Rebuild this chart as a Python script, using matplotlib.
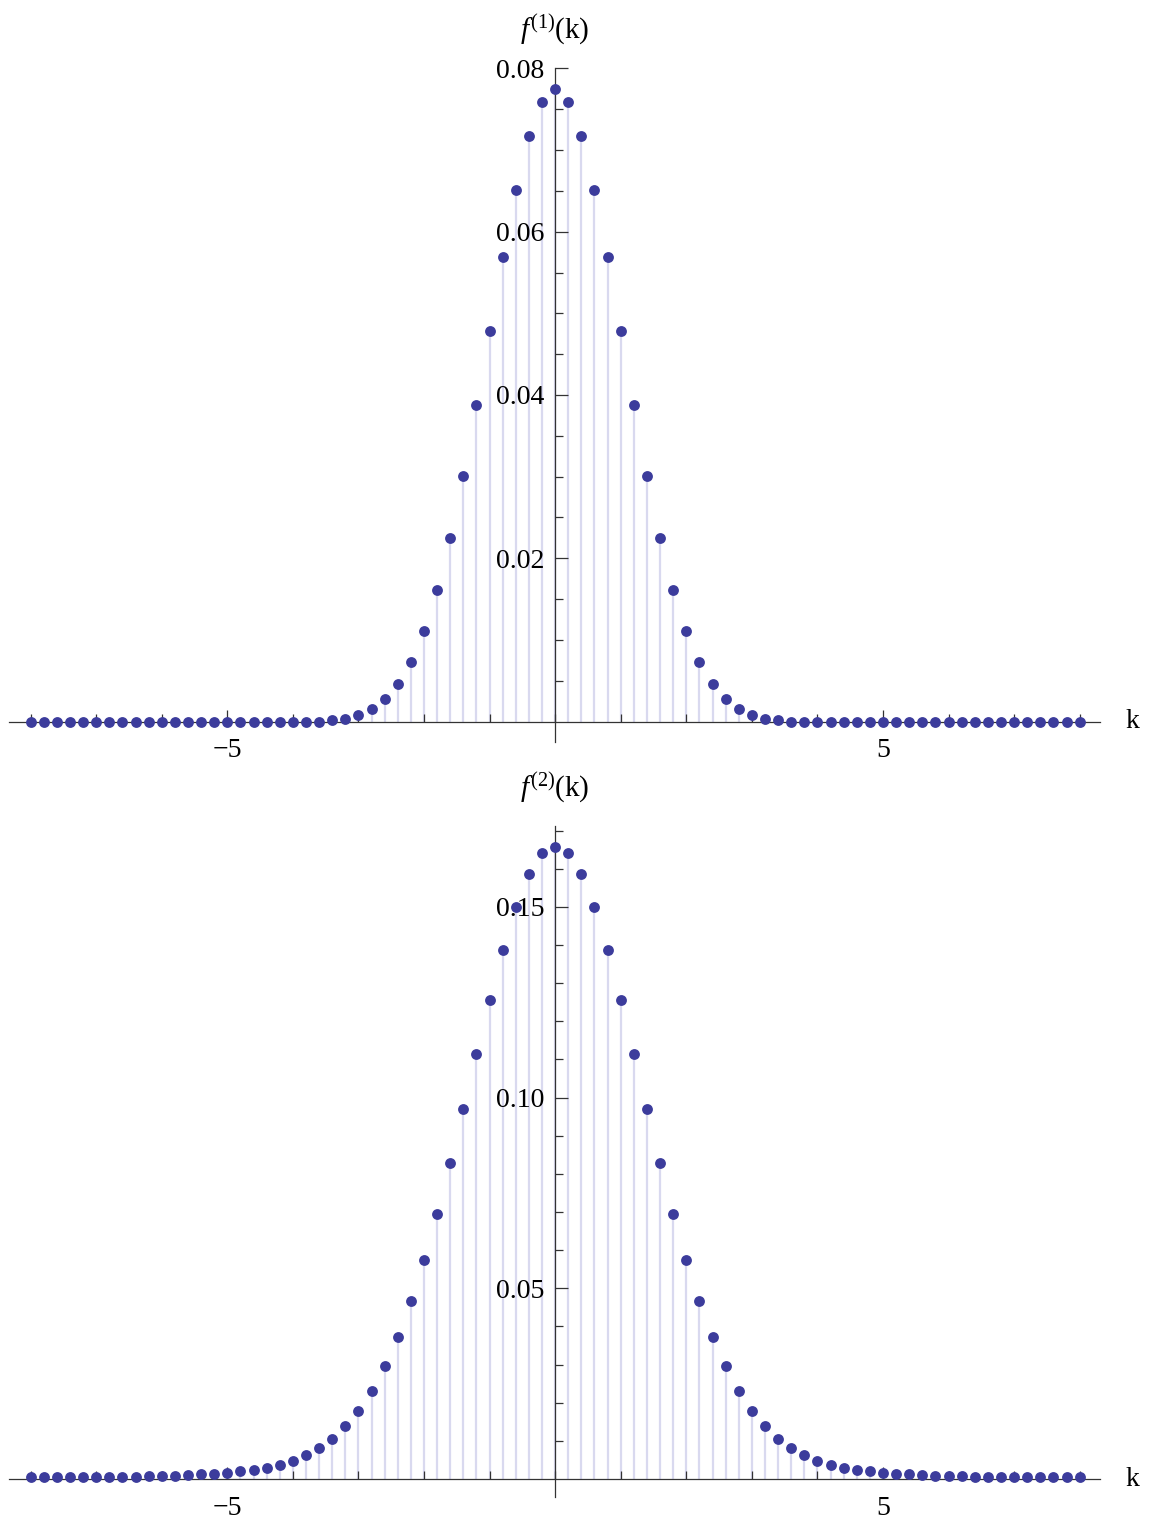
import numpy as np
import matplotlib.pyplot as plt
from matplotlib.ticker import FixedLocator, FormatStrFormatter

plt.rcParams['font.family'] = ['Liberation Serif', 'DejaVu Serif']
plt.rcParams['mathtext.fontset'] = 'custom'
plt.rcParams['mathtext.rm'] = 'Liberation Serif'
plt.rcParams['mathtext.it'] = 'Liberation Serif:italic'

# sample points k = -8 ... 8, step 0.2
k = np.round(np.arange(-40, 41) * 0.2, 1)

# first order distribution
f1 = [0.0] * 23 + [
    0.00016, 0.00032, 0.00077, 0.00151, 0.00273, 0.00460, 0.00734, 0.01113,
    0.01615, 0.02252, 0.03008, 0.03874, 0.04784, 0.05690, 0.06514, 0.07168,
    0.07592,
    0.07744,
    0.07592, 0.07168, 0.06514, 0.05690, 0.04784, 0.03874, 0.03008, 0.02252,
    0.01615, 0.01113, 0.00734, 0.00460, 0.00273, 0.00151, 0.00077, 0.00032,
    0.00016] + [0.0] * 23

# second order distribution
f2 = [
    0.0005, 0.0005, 0.0005, 0.0005, 0.0005, 0.0006, 0.0006, 0.0006, 0.0006,
    0.0007, 0.0008, 0.0009, 0.0010, 0.0012, 0.0014, 0.0017, 0.0020, 0.0024,
    0.0030, 0.0037, 0.0048, 0.0063, 0.0081, 0.0106, 0.0138, 0.0179, 0.0232,
    0.0296, 0.0373, 0.0466, 0.0573, 0.0695, 0.0828, 0.0969, 0.1114, 0.1256,
    0.1387, 0.1499, 0.1586, 0.1640,
    0.1658,
    0.1640, 0.1586, 0.1499, 0.1387, 0.1256, 0.1114, 0.0969, 0.0828, 0.0695,
    0.0573, 0.0466, 0.0373, 0.0296, 0.0232, 0.0179, 0.0138, 0.0106, 0.0081,
    0.0063, 0.0048, 0.0037, 0.0030, 0.0024, 0.0020, 0.0017, 0.0014, 0.0012,
    0.0010, 0.0009, 0.0008, 0.0007, 0.0006, 0.0006, 0.0006, 0.0006, 0.0005,
    0.0005, 0.0005, 0.0005, 0.0005]

x_major = [-5, 5]
x_minor = [-8, -7, -6, -4, -3, -2, -1, 0, 1, 2, 3, 4, 6, 7, 8]
y1_major = [0.02, 0.04, 0.06, 0.08]
y2_major = [0.05, 0.10, 0.15]

DOT = '#3c3c9c'
STEM = '#d9d9ef'
AXIS = '#333333'
FS = 20


def stem_panel(ax, vals, ylim, ymajor, yminor, label):
    ax.set_xlim(-8.33, 8.31)
    ax.set_ylim(*ylim)
    ax.vlines(k, 0, vals, colors=STEM, lw=1.6, zorder=1)
    ax.plot(k, vals, 'o', ms=7.8, color=DOT, mec='none', zorder=4, clip_on=False)

    # axes through the origin, Mathematica style
    for s in ['top', 'right']:
        ax.spines[s].set_visible(False)
    ax.spines['left'].set_position(('data', 0))
    ax.spines['bottom'].set_position(('data', 0))
    for s in ['left', 'bottom']:
        ax.spines[s].set_color(AXIS)
        ax.spines[s].set_linewidth(0.9)
        ax.spines[s].set_zorder(3)

    ax.xaxis.set_major_locator(FixedLocator(x_major))
    ax.xaxis.set_minor_locator(FixedLocator(x_minor))
    ax.yaxis.set_major_locator(FixedLocator(ymajor))
    ax.yaxis.set_minor_locator(FixedLocator(yminor))
    ax.yaxis.set_major_formatter(FormatStrFormatter('%.2f'))
    ax.tick_params(axis='x', which='major', direction='in', length=9, width=0.9,
                   color=AXIS, labelsize=FS, pad=12)
    ax.tick_params(axis='x', which='minor', direction='in', length=5.5, width=0.9,
                   color=AXIS)
    ax.tick_params(axis='y', which='major', direction='in', length=9.5, width=0.9,
                   color=AXIS, labelsize=FS, pad=8)
    ax.tick_params(axis='y', which='minor', direction='in', length=6, width=0.9,
                   color=AXIS)

    ax.text(8.31 + 0.5, 0, 'k', fontsize=FS, ha='center', va='center',
            transform=ax.transData, clip_on=False)
    # axis label sits above the top end of the vertical axis
    ax.annotate(label, xy=(0, 1.0), xycoords=('data', 'axes fraction'),
                xytext=(0, 21.5), textcoords='offset points',
                fontsize=21, ha='center', va='baseline', annotation_clip=False)


fig = plt.figure(figsize=(11.52, 15.19), dpi=100)

ax1 = fig.add_axes([9 / 1152, 1 - 742.3 / 1519, 1091 / 1152, 673.9 / 1519])
stem_panel(ax1, f1, (-0.00254, 0.0800), y1_major,
           [i * 0.005 for i in range(1, 16) if i % 4],
           r'$f^{(1)}$(k)')

ax2 = fig.add_axes([9 / 1152, 1 - 1497 / 1519, 1091 / 1152, 671 / 1519])
stem_panel(ax2, f2, (-0.0047, 0.1712), y2_major,
           [i * 0.01 for i in range(1, 18) if i % 5],
           r'$f^{(2)}$(k)')

fig.savefig('out.png', dpi=100, facecolor='white')
